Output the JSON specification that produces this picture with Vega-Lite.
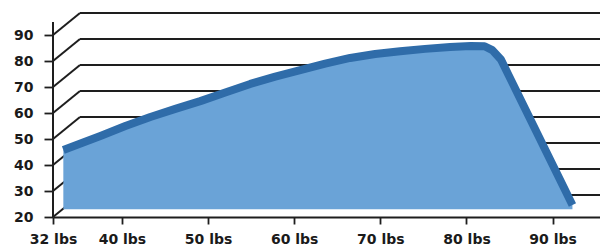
{
  "$schema": "https://vega.github.io/schema/vega-lite/v6.json",
  "width": 547,
  "height": 204,
  "autosize": {"type": "none"},
  "padding": {"left": 53, "right": 0, "top": 13, "bottom": 28},
  "background": "white",
  "config": {
    "view": {"stroke": null},
    "axis": {"labelOverlap": false, "labelBound": false, "labelFlush": false, "grid": false, "title": null,
      "labelFont": "DejaVu Sans", "labelFontWeight": "bold", "labelFontSize": 14, "labelColor": "#1a1a1a",
      "tickColor": "#1e1e1e", "tickWidth": 1.8, "domainColor": "#1e1e1e", "domainWidth": 1.8}
  },
  "datasets": {
    "grid": [{"v": 20}, {"v": 30}, {"v": 40}, {"v": 50}, {"v": 60}, {"v": 70}, {"v": 80}, {"v": 90}],
    "curve": [
      {"lbs": 33.2, "val": 45.8},
      {"lbs": 35.5, "val": 48.7},
      {"lbs": 37.5, "val": 51.2},
      {"lbs": 40.4, "val": 55.0},
      {"lbs": 43.3, "val": 58.5},
      {"lbs": 46.2, "val": 61.6},
      {"lbs": 49.1, "val": 64.6},
      {"lbs": 52.0, "val": 67.9},
      {"lbs": 54.9, "val": 71.2},
      {"lbs": 57.8, "val": 74.0},
      {"lbs": 60.7, "val": 76.5},
      {"lbs": 63.6, "val": 79.0},
      {"lbs": 66.5, "val": 81.2},
      {"lbs": 69.4, "val": 82.7},
      {"lbs": 72.3, "val": 83.8},
      {"lbs": 75.2, "val": 84.7},
      {"lbs": 78.1, "val": 85.4},
      {"lbs": 80.5, "val": 85.8},
      {"lbs": 82.1, "val": 85.7},
      {"lbs": 83.0, "val": 84.2},
      {"lbs": 84.0, "val": 80.6},
      {"lbs": 92.3, "val": 24.6}
    ]
  },
  "layer": [
    {
      "data": {"name": "grid"},
      "mark": {"type": "rule", "color": "#1e1e1e", "strokeWidth": 2, "xOffset": 27, "yOffset": -22, "y2Offset": -22},
      "encoding": {
        "x": {"datum": 32, "type": "quantitative", "scale": {"domain": [32, 95.5], "nice": false, "zero": false},
          "axis": {"values": [32, 40, 50, 60, 70, 80, 90], "labelExpr": "datum.value + ' lbs'", "tickSize": 7, "labelPadding": 8}},
        "x2": {"datum": 95.5},
        "y": {"field": "v", "type": "quantitative", "scale": {"domain": [20, 98.5], "nice": false, "zero": false},
          "axis": {"values": [20, 30, 40, 50, 60, 70, 80, 90], "domain": false, "tickSize": 9, "labelPadding": 11}}
      }
    },
    {
      "data": {"name": "grid"},
      "mark": {"type": "rule", "color": "#1e1e1e", "strokeWidth": 2, "x2Offset": 27, "y2Offset": -22},
      "encoding": {
        "x": {"datum": 32, "type": "quantitative",
          "axis": {"values": [32, 40, 50, 60, 70, 80, 90], "labelExpr": "datum.value + ' lbs'", "tickSize": 7, "labelPadding": 8}},
        "x2": {"datum": 32},
        "y": {"field": "v", "type": "quantitative",
          "axis": {"values": [20, 30, 40, 50, 60, 70, 80, 90], "domain": false, "tickSize": 9, "labelPadding": 11}},
        "y2": {"field": "v"}
      }
    },
    {
      "data": {"values": [{"a": 1}]},
      "mark": {"type": "rule", "color": "#1e1e1e", "strokeWidth": 2},
      "encoding": {
        "x": {"datum": 32, "type": "quantitative",
          "axis": {"values": [32, 40, 50, 60, 70, 80, 90], "labelExpr": "datum.value + ' lbs'", "tickSize": 7, "labelPadding": 8}},
        "y": {"datum": 20, "type": "quantitative",
          "axis": {"values": [20, 30, 40, 50, 60, 70, 80, 90], "domain": false, "tickSize": 9, "labelPadding": 11}},
        "y2": {"datum": 95}
      }
    },
    {
      "data": {"name": "curve"},
      "mark": {"type": "area", "color": "#6aa3d7", "opacity": 1, "interpolate": "linear",
        "line": {"color": "#2f6ca9", "strokeWidth": 8, "strokeCap": "butt", "strokeJoin": "round"}},
      "encoding": {
        "x": {"field": "lbs", "type": "quantitative",
          "axis": {"values": [32, 40, 50, 60, 70, 80, 90], "labelExpr": "datum.value + ' lbs'", "tickSize": 7, "labelPadding": 8}},
        "y": {"field": "val", "type": "quantitative",
          "axis": {"values": [20, 30, 40, 50, 60, 70, 80, 90], "domain": false, "tickSize": 9, "labelPadding": 11}},
        "y2": {"datum": 23}
      }
    }
  ]
}
